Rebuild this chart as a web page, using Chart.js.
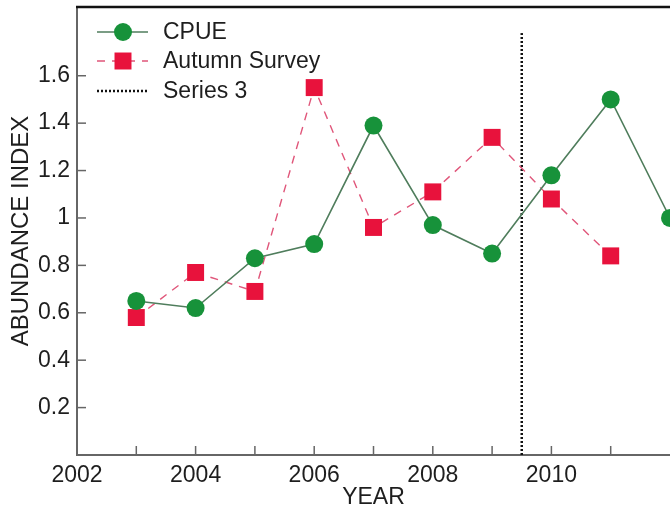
<!DOCTYPE html>
<html><head><meta charset="utf-8">
<script src="https://cdn.jsdelivr.net/npm/chart.js@4"></script>
<style>html,body{margin:0;padding:0;background:#fff;overflow:hidden}</style>
</head><body>
<canvas id="c" width="670" height="508"></canvas>
<script>
const years = [2003, 2004, 2005, 2006, 2007, 2008, 2009, 2010, 2011, 2012];
const cpue = [0.65, 0.62, 0.83, 0.89, 1.39, 0.97, 0.85, 1.18, 1.50, 1.00];
const autumnSurvey = [0.58, 0.77, 0.69, 1.55, 0.96, 1.11, 1.34, 1.08, 0.84, null];
const series3X = [2009.5, 2009.5];
const series3Y = [0, 1.78];
const xTickLabels = [2002, 2004, 2006, 2008, 2010];
const yTickLabels = [0.2, 0.4, 0.6, 0.8, 1, 1.2, 1.4, 1.6];
const seriesNames = ['CPUE', 'Autumn Survey', 'Series 3'];

const FONT = '"Liberation Sans", Arial, sans-serif';
const TXT = '#1e1e1e';

const toPts = (xs, ys) => xs.map((x, i) => ({x: x, y: ys[i]})).filter(p => p.y !== null);

const frame = {
  id: 'frame',
  afterDraw(chart) {
    const ctx = chart.ctx, a = chart.chartArea;
    const xs = chart.scales.x, ys = chart.scales.y;
    ctx.save();
    // top border
    ctx.strokeStyle = '#111'; ctx.lineWidth = 2.5;
    ctx.beginPath(); ctx.moveTo(a.left - 1, a.top); ctx.lineTo(a.right, a.top); ctx.stroke();
    // inward ticks
    ctx.strokeStyle = '#666'; ctx.lineWidth = 1.5;
    yTickLabels.forEach(v => {
      const y = ys.getPixelForValue(v);
      ctx.beginPath(); ctx.moveTo(a.left, y); ctx.lineTo(a.left + 9, y); ctx.stroke();
    });
    for (let yr = 2003; yr <= 2011; yr++) {
      const x = xs.getPixelForValue(yr);
      ctx.beginPath(); ctx.moveTo(x, a.bottom); ctx.lineTo(x, a.bottom - 9); ctx.stroke();
    }
    // legend
    const ds = chart.data.datasets;
    const lx0 = a.left + 20, lx1 = a.left + 71, mx = a.left + 46, tx = a.left + 86;
    const rows = [a.top + 25, a.top + 54, a.top + 84];
    ctx.font = '23px ' + FONT; ctx.fillStyle = TXT; ctx.textBaseline = 'middle';
    ds.forEach((d, i) => {
      const y = rows[i];
      ctx.save();
      ctx.strokeStyle = d.borderColor; ctx.lineWidth = d.borderWidth;
      ctx.setLineDash(d.borderDash || []);
      ctx.beginPath(); ctx.moveTo(lx0, y); ctx.lineTo(lx1, y); ctx.stroke();
      ctx.restore();
      if (d.pointRadius > 0) {
        ctx.fillStyle = d.pointBackgroundColor;
        if (d.pointStyle === 'rect') {
          const s = d.pointRadius * Math.SQRT1_2;
          ctx.fillRect(mx - s, y - s, 2 * s, 2 * s);
        } else {
          ctx.beginPath(); ctx.arc(mx, y, d.pointRadius, 0, Math.PI * 2); ctx.fill();
        }
      }
      ctx.fillStyle = TXT;
      ctx.fillText(d.label, tx, y + 1);
    });
    ctx.restore();
  }
};

new Chart(document.getElementById('c'), {
  type: 'line',
  data: {
    datasets: [
      {
        label: seriesNames[0],
        data: toPts(years, cpue),
        borderColor: '#4f7d5c', borderWidth: 1.6,
        pointStyle: 'circle', pointRadius: 9,
        pointBackgroundColor: '#17923a', pointBorderColor: '#17923a', pointBorderWidth: 0,
        tension: 0, clip: false
      },
      {
        label: seriesNames[1],
        data: toPts(years, autumnSurvey),
        borderColor: '#e0567a', borderWidth: 1.4, borderDash: [8, 7],
        pointStyle: 'rect', pointRadius: 12,
        pointBackgroundColor: '#e8123c', pointBorderColor: '#e8123c', pointBorderWidth: 0,
        tension: 0, clip: false
      },
      {
        label: seriesNames[2],
        data: toPts(series3X, series3Y),
        borderColor: '#111', borderWidth: 2.5, borderDash: [2, 2],
        pointRadius: 0, tension: 0
      }
    ]
  },
  options: {
    responsive: false,
    animation: false,
    events: [],
    layout: {autoPadding: false, padding: {top: 7, right: 0, left: 0, bottom: 0}},
    plugins: {legend: {display: false}, tooltip: {enabled: false}},
    scales: {
      x: {
        type: 'linear', min: 2002, max: 2012,
        afterFit(s) { s.height = 53; s.paddingLeft = 0; s.paddingRight = 0; },
        grid: {display: false, drawTicks: false},
        border: {display: true, color: '#666', width: 2},
        ticks: {
          stepSize: 1, autoSkip: false, maxRotation: 0, padding: 7,
          color: TXT, font: {family: FONT, size: 23},
          callback: v => xTickLabels.includes(v) ? String(v) : ''
        },
        title: {display: true, text: 'YEAR', color: TXT, font: {family: FONT, size: 23}, padding: {top: 0, bottom: -3}}
      },
      y: {
        type: 'linear', min: 0, max: 1.89,
        afterFit(s) { s.width = 77; s.paddingTop = 0; s.paddingBottom = 0; },
        grid: {display: false, drawTicks: false},
        border: {display: true, color: '#666', width: 2},
        ticks: {
          stepSize: 0.2, padding: 7,
          color: TXT, font: {family: FONT, size: 23},
          callback: v => {
            const r = Math.round(v * 10) / 10;
            return yTickLabels.includes(r) ? String(r) : '';
          }
        },
        title: {display: true, text: 'ABUNDANCE INDEX', color: TXT, font: {family: FONT, size: 24}, padding: {top: 7, bottom: 0}}
      }
    }
  },
  plugins: [frame]
});
</script>
</body></html>
